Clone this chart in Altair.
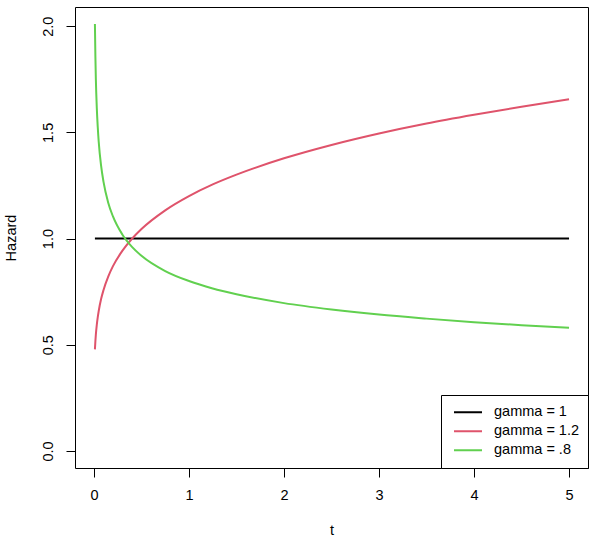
import altair as alt
import pandas as pd

t_vals = [0.01, 0.015, 0.02, 0.03, 0.04, 0.05, 0.075, 0.1, 0.15, 0.2, 0.3, 0.4, 0.5,
          0.75, 1.0, 1.25, 1.5, 2.0, 2.5, 3.0, 3.5, 4.0, 4.5, 5.0]
h_g1 = [1.0] * len(t_vals)
h_g12 = [0.478, 0.517, 0.549, 0.595, 0.630, 0.659, 0.715, 0.757, 0.821, 0.870, 0.943,
         0.999, 1.045, 1.133, 1.200, 1.255, 1.301, 1.378, 1.441, 1.495, 1.542, 1.583,
         1.621, 1.656]
h_g08 = [2.010, 1.857, 1.749, 1.613, 1.524, 1.456, 1.343, 1.268, 1.169, 1.104, 1.018,
         0.961, 0.919, 0.847, 0.800, 0.765, 0.738, 0.696, 0.666, 0.642, 0.623, 0.606,
         0.592, 0.580]
series = ["gamma = 1", "gamma = 1.2", "gamma = .8"]
colors = ["#000000", "#DF536B", "#61D04F"]
x_ticks = [0, 1, 2, 3, 4, 5]
y_ticks = [0.0, 0.5, 1.0, 1.5, 2.0]

rows = []
for name, vals in zip(series, [h_g1, h_g12, h_g08]):
    for i, (t, h) in enumerate(zip(t_vals, vals)):
        rows.append({"t": t, "h": h, "series": name, "order": i})
df = pd.DataFrame(rows)

FONT = "Liberation Sans"
FS = 14.5

chart = alt.Chart(df).mark_line(strokeWidth=2, interpolate="monotone").encode(
    x=alt.X("t:Q", scale=alt.Scale(domain=[-0.1996, 5.1996], nice=False, zero=False),
            axis=alt.Axis(values=x_ticks, title="t", format="d")),
    y=alt.Y("h:Q", scale=alt.Scale(domain=[-0.0804, 2.0904], nice=False, zero=False),
            axis=alt.Axis(values=y_ticks, title="Hazard", format=".1f",
                          labelAngle=270, labelAlign="center", labelBaseline="bottom")),
    color=alt.Color("series:N", scale=alt.Scale(domain=series, range=colors),
                    legend=alt.Legend(title=None, orient="bottom-right", offset=0,
                                      symbolType="stroke", symbolSize=784,
                                      symbolStrokeWidth=2, clipHeight=18.5,
                                      rowPadding=0, padding=8, symbolOffset=4,
                                      labelOffset=11, labelFont=FONT, labelFontSize=FS,
                                      labelColor="black", strokeColor="black",
                                      fillColor="white", labelLimit=300)),
    order="order:Q",
).properties(
    width=513, height=461,
    autosize=alt.AutoSizeParams(type="none"),
    padding={"left": 75, "top": 7, "right": 2, "bottom": 70},
).configure_view(
    stroke="black", strokeWidth=1
).configure_axis(
    grid=False, domain=False, tickColor="black", tickSize=9, tickWidth=1,
    labelFont=FONT, labelFontSize=FS, labelColor="black", labelPadding=11,
    titleFont=FONT, titleFontSize=FS, titleFontWeight="normal", titleColor="black",
).configure_axisX(
    titlePadding=22
).configure_axisY(
    titlePadding=22
)

chart.save("out.html", embed_options={"renderer": "svg", "actions": False})
